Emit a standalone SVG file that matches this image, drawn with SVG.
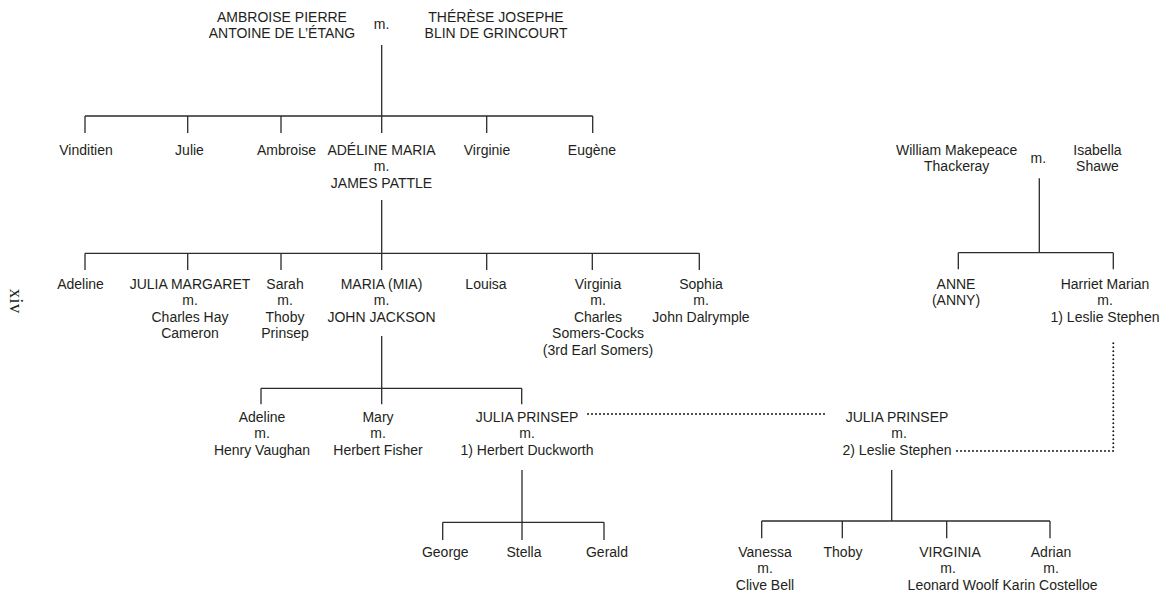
<svg xmlns="http://www.w3.org/2000/svg" width="1162" height="594" viewBox="0 0 1162 594">
<style>
  text { font-family: "Liberation Sans", Arial, sans-serif; font-size: 14px; fill: #231f20; text-anchor: middle; }
  .ln { stroke: #2b2b2b; stroke-width: 1.3; fill: none; }
  .dot { stroke: #1a1a1a; stroke-width: 2; stroke-linecap: round; stroke-dasharray: 0 4; fill: none; }
  .folio { font-family: "Liberation Serif", "Times New Roman", serif; font-size: 19px; text-anchor: middle; }
</style>
<rect width="1162" height="594" fill="#ffffff"/>

<g id="connectors">
  <path class="ln" d="M381.7 45V116M85 116H592.7M85 116V133M187.7 116V133M281 116V133M381.7 116V133M486.7 116V133M592.7 116V133"/>
  <path class="ln" d="M381.7 200V253.3M85 253.3H699.3M85 253.3V270M187.7 253.3V270M281 253.3V270M381.7 253.3V270M486.7 253.3V270M592.3 253.3V270M699.3 253.3V270"/>
  <path class="ln" d="M381.7 336V388.3M261 388.3H521.7M261 388.3V404.3M381.7 388.3V404.3M521.7 388.3V404.3"/>
  <path class="ln" d="M522 470V522.3M442.7 522.3H604M442.7 522.3V540M522 522.3V540M604 522.3V540"/>
  <path class="ln" d="M891.7 470V521M761.7 521H1050M761.7 521V538.3M842.3 521V538.3M946.7 521V538.3M1050 521V538.3"/>
  <path class="ln" d="M1039.3 178.3V252.7M958.3 252.7H1113.3M958.3 252.7V269.3M1113.3 252.7V269.3"/>
  <path class="dot" d="M588 414H828"/>
  <path class="dot" d="M957 451H1113.3V340"/>
</g>

<g id="folio"><text class="folio" transform="translate(10,301) rotate(90)" x="0" y="0">xiv</text></g>

<g id="n-ambroise-pierre"><text x="282" y="21.5">AMBROISE PIERRE<tspan x="282" dy="16">ANTOINE DE L’ÉTANG</tspan></text></g>
<g id="m-top"><text x="381.5" y="28.5">m.</text></g>
<g id="n-therese"><text x="496" y="21.5">THÉRÈSE JOSEPHE<tspan x="496" dy="16">BLIN DE GRINCOURT</tspan></text></g>

<g id="n-vinditien"><text x="86" y="154.5">Vinditien</text></g>
<g id="n-julie"><text x="189.5" y="154.5">Julie</text></g>
<g id="n-ambroise"><text x="286.5" y="154.5">Ambroise</text></g>
<g id="n-adeline-maria"><text x="381.5" y="154.5">ADÉLINE MARIA<tspan x="381.5" dy="16.5">m.</tspan><tspan x="381.5" dy="16.5">JAMES PATTLE</tspan></text></g>
<g id="n-virginie"><text x="487" y="154.5">Virginie</text></g>
<g id="n-eugene"><text x="592" y="154.5">Eugène</text></g>

<g id="n-adeline"><text x="80.5" y="288.5">Adeline</text></g>
<g id="n-julia-margaret"><text x="190" y="288.5">JULIA MARGARET<tspan x="190" dy="16.5">m.</tspan><tspan x="190" dy="16.5">Charles Hay</tspan><tspan x="190" dy="16.5">Cameron</tspan></text></g>
<g id="n-sarah"><text x="285" y="288.5">Sarah<tspan x="285" dy="16.5">m.</tspan><tspan x="285" dy="16.5">Thoby</tspan><tspan x="285" dy="16.5">Prinsep</tspan></text></g>
<g id="n-maria"><text x="381.5" y="288.5">MARIA (MIA)<tspan x="381.5" dy="16.5">m.</tspan><tspan x="381.5" dy="16.5">JOHN JACKSON</tspan></text></g>
<g id="n-louisa"><text x="486" y="288.5">Louisa</text></g>
<g id="n-virginia"><text x="598" y="288.5">Virginia<tspan x="598" dy="16.5">m.</tspan><tspan x="598" dy="16.5">Charles</tspan><tspan x="598" dy="16.5">Somers-Cocks</tspan><tspan x="598" dy="16.5">(3rd Earl Somers)</tspan></text></g>
<g id="n-sophia"><text x="701" y="288.5">Sophia<tspan x="701" dy="16.5">m.</tspan><tspan x="701" dy="16.5">John Dalrymple</tspan></text></g>

<g id="n-adeline-vaughan"><text x="262" y="421.5">Adeline<tspan x="262" dy="16.5">m.</tspan><tspan x="262" dy="16.5">Henry Vaughan</tspan></text></g>
<g id="n-mary"><text x="378" y="421.5">Mary<tspan x="378" dy="16.5">m.</tspan><tspan x="378" dy="16.5">Herbert Fisher</tspan></text></g>
<g id="n-julia-prinsep-1"><text x="527" y="421.5">JULIA PRINSEP<tspan x="527" dy="16.5">m.</tspan><tspan x="527" dy="16.5">1) Herbert Duckworth</tspan></text></g>
<g id="n-julia-prinsep-2"><text x="897" y="421.5">JULIA PRINSEP<tspan x="899" dy="16.5">m.</tspan><tspan x="897" dy="16.5">2) Leslie Stephen</tspan></text></g>

<g id="n-george"><text x="445.3" y="556.5">George</text></g>
<g id="n-stella"><text x="524" y="556.5">Stella</text></g>
<g id="n-gerald"><text x="607" y="556.5">Gerald</text></g>

<g id="n-vanessa"><text x="765" y="556.5">Vanessa<tspan x="765" dy="16.5">m.</tspan><tspan x="765" dy="16.5">Clive Bell</tspan></text></g>
<g id="n-thoby"><text x="843" y="556.5">Thoby</text></g>
<g id="n-virginia-woolf"><text x="950" y="556.5">VIRGINIA<tspan x="948" dy="16.5">m.</tspan><tspan x="953" dy="16.5">Leonard Woolf</tspan></text></g>
<g id="n-adrian"><text x="1051" y="556.5">Adrian<tspan x="1051" dy="16.5">m.</tspan><tspan x="1050" dy="16.5">Karin Costelloe</tspan></text></g>

<g id="n-thackeray"><text x="956.7" y="154.5">William Makepeace<tspan x="956.7" dy="16.5">Thackeray</tspan></text></g>
<g id="m-thackeray"><text x="1038.3" y="162.5">m.</text></g>
<g id="n-isabella"><text x="1097.5" y="154.5">Isabella<tspan x="1097.5" dy="16.5">Shawe</tspan></text></g>
<g id="n-anne"><text x="956" y="288.5">ANNE<tspan x="956" dy="16.5">(ANNY)</tspan></text></g>
<g id="n-harriet"><text x="1105" y="288.5">Harriet Marian<tspan x="1105" dy="16.5">m.</tspan><tspan x="1105" dy="16.5">1) Leslie Stephen</tspan></text></g>
</svg>
